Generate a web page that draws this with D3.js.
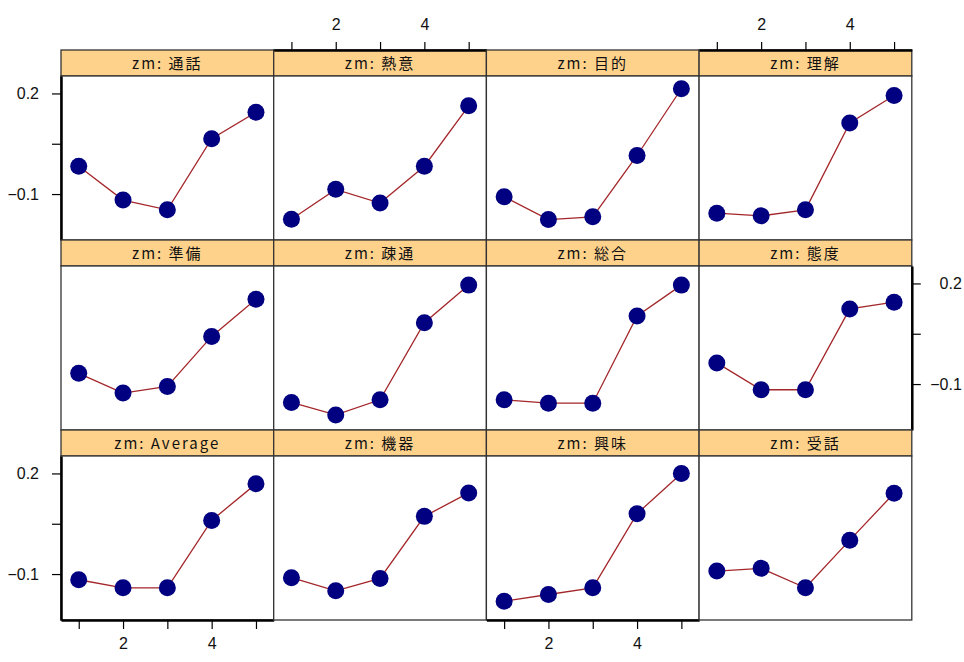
<!DOCTYPE html>
<html>
<head>
<meta charset="utf-8">
<script src="https://cdn.jsdelivr.net/npm/d3@7"></script>
<style>
  body { margin: 0; background: #fff; }
  .strip-label { font-family: "Noto Sans CJK JP", sans-serif; font-size: 15px; fill: #111; letter-spacing: 2px; }
</style>
</head>
<body>
<div id="chart"></div>
<script>
// panel names, top row first (left to right)
var panelNames = ["通話", "熱意", "目的", "理解",
                  "準備", "疎通", "総合", "態度",
                  "Average", "機器", "興味", "受話"];
var xValues = [1, 2, 3, 4, 5];

var tsuwa   = [-0.017, -0.118, -0.147, 0.065, 0.144];
var netsui  = [-0.175, -0.086, -0.127, -0.017, 0.163];
var mokuteki = [-0.108, -0.176, -0.168, 0.015, 0.214];
var rikai   = [-0.157, -0.165, -0.147, 0.112, 0.194];
var junbi   = [-0.068, -0.127, -0.107, 0.042, 0.153];
var sotsu   = [-0.155, -0.192, -0.147, 0.083, 0.195];
var sogo    = [-0.147, -0.157, -0.157, 0.103, 0.195];
var taido   = [-0.037, -0.117, -0.117, 0.124, 0.144];
var average = [-0.117, -0.141, -0.141, 0.060, 0.169];
var kiki    = [-0.111, -0.150, -0.113, 0.072, 0.142];
var kyomi   = [-0.181, -0.161, -0.141, 0.080, 0.200];
var juwa    = [-0.091, -0.083, -0.141, 0.001, 0.141];

var panelValues = [tsuwa, netsui, mokuteki, rikai,
                   junbi, sotsu, sogo, taido,
                   average, kiki, kyomi, juwa];

var xTicks = [1, 2, 3, 4, 5];
var xTickLabels = {2: "2", 4: "4"};
var yTicks = [-0.1, 0.05, 0.2];
var yTickLabels = {"-0.1": "\u22120.1", "0.2": "0.2"};

var svg = d3.select("#chart").append("svg").attr("width", 964).attr("height", 662);

var left0 = 61, top0 = 50, colW = 212.7, rowH = 190, stripH = 26;
var panelH = rowH - stripH;

var x = d3.scaleLinear().domain([0.6, 5.4]).range([0, colW]);
var y = d3.scaleLinear().domain([-0.237, 0.252]).range([panelH, 0]);

var line = d3.line()
    .x(function (d) { return x(d[0]); })
    .y(function (d) { return y(d[1]); });

panelNames.forEach(function (name, i) {
    var col = i % 4, row = Math.floor(i / 4);
    var g = svg.append("g")
        .attr("transform", "translate(" + (left0 + col * colW) + "," + (top0 + row * rowH) + ")");

    // strip
    g.append("rect")
        .attr("width", colW).attr("height", stripH)
        .attr("fill", "#ffd28c").attr("stroke", "#333").attr("stroke-width", 1.3);
    g.append("text")
        .attr("class", "strip-label")
        .attr("x", colW / 2).attr("y", stripH / 2 + 5.5)
        .attr("text-anchor", "middle")
        .text("zm: " + name);

    var p = g.append("g").attr("transform", "translate(0," + stripH + ")");
    p.append("rect")
        .attr("width", colW).attr("height", panelH)
        .attr("fill", "#fff").attr("stroke", "#333").attr("stroke-width", 1.3);

    var pts = xValues.map(function (xv, k) { return [xv, panelValues[i][k]]; });
    p.append("path")
        .attr("d", line(pts))
        .attr("fill", "none").attr("stroke", "#a3262a").attr("stroke-width", 1.3);
    p.selectAll("circle").data(pts).enter().append("circle")
        .attr("cx", function (d) { return x(d[0]); })
        .attr("cy", function (d) { return y(d[1]); })
        .attr("r", 8.5)
        .attr("fill", "#000080");

    function styleAxis(a) {
        a.attr("font-size", 16).attr("font-family", "'Liberation Sans', Arial, sans-serif");
        a.select(".domain").attr("stroke", "#000").attr("stroke-width", 2.5);
        a.selectAll(".tick line").attr("stroke", "#000").attr("stroke-width", 1.2);
        a.selectAll(".tick text").attr("fill", "#111");
    }
    var xFmt = function (d) { return xTickLabels[d] || ""; };
    var yFmt = function (d) { return yTickLabels[String(d)] || ""; };

    // alternating axes as in lattice
    if (row === 0 && (col === 1 || col === 3)) {
        g.append("g").call(d3.axisTop(x).tickValues(xTicks).tickFormat(xFmt)
            .tickSizeInner(8).tickSizeOuter(0).tickPadding(12)).call(styleAxis);
    }
    if (row === 2 && (col === 0 || col === 2)) {
        p.append("g").attr("transform", "translate(0," + panelH + ")")
            .call(d3.axisBottom(x).tickValues(xTicks).tickFormat(xFmt)
            .tickSizeInner(9).tickSizeOuter(0).tickPadding(9)).call(styleAxis);
    }
    if (col === 0 && (row === 0 || row === 2)) {
        p.append("g").call(d3.axisLeft(y).tickValues(yTicks).tickFormat(yFmt)
            .tickSizeInner(9).tickSizeOuter(0).tickPadding(13)).call(styleAxis);
    }
    if (col === 3 && row === 1) {
        var ra = p.append("g").attr("transform", "translate(" + colW + ",0)")
            .call(d3.axisRight(y).tickValues(yTicks).tickFormat(yFmt)
            .tickSizeInner(9).tickSizeOuter(0).tickPadding(14)).call(styleAxis);
        ra.selectAll(".tick text").attr("text-anchor", "end").attr("x", 50);
    }
});
</script>
</body>
</html>
